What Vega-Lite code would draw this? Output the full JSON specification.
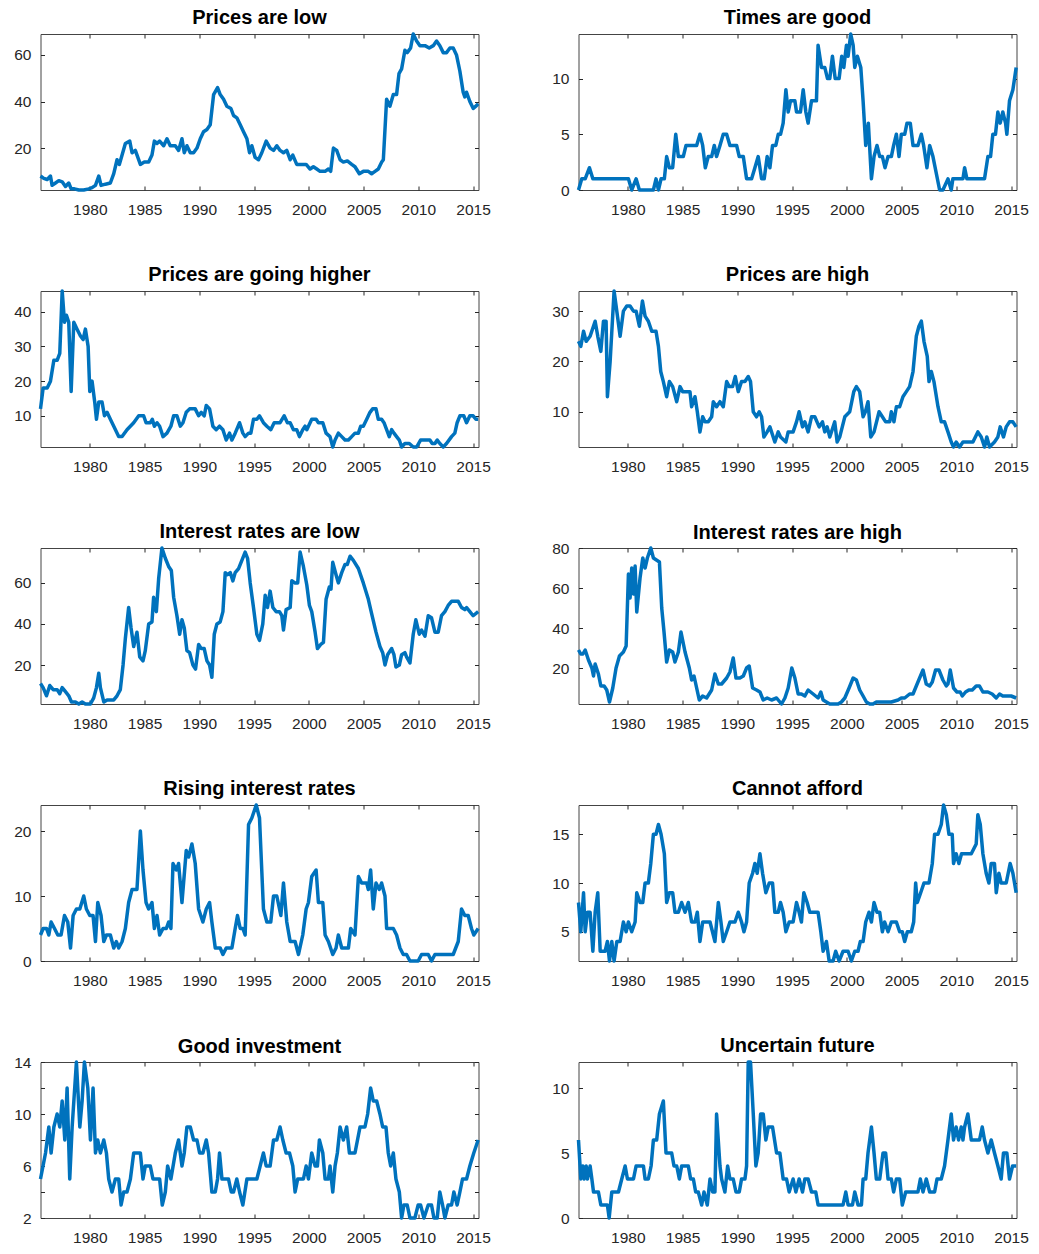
{
"$schema":"https://vega.github.io/schema/vega-lite/v6.json",
"background":"white",
"padding":{"left":12.5,"top":7,"right":5,"bottom":5},
"bounds":"flush",
"columns":2,
"spacing":{"row":101,"column":100},
"config":{
 "view":{"stroke":"#444444","strokeWidth":1},
 "axis":{"grid":false,"domain":false,"tickSize":-4,"tickColor":"#262626","tickWidth":1,"labelFont":"Liberation Sans","labelFontSize":15.5,"labelColor":"#262626","labelFlush":false,"labelOverlap":false},
 "axisBottom":{"labelPadding":16},
 "axisLeft":{"labelPadding":13.5},
 "axisTop":{"labels":false},
 "axisRight":{"labels":false},
 "title":{"font":"Liberation Sans","fontSize":20,"fontWeight":"bold","color":"#000000","offset":4,"anchor":"middle"},
 "line":{"color":"#0072BD","strokeWidth":3.5,"strokeJoin":"round"}
},
"datasets":{
"p1":[{"t":1975.50,"v":8},{"t":1975.80,"v":7},{"t":1976.11,"v":6.5},{"t":1976.41,"v":8},{"t":1976.56,"v":4},{"t":1976.87,"v":5},{"t":1977.17,"v":6},{"t":1977.48,"v":5.5},{"t":1977.78,"v":3.5},{"t":1978.08,"v":5},{"t":1978.30,"v":2.5},{"t":1978.60,"v":2.5},{"t":1979.00,"v":2},{"t":1979.45,"v":2},{"t":1979.91,"v":2.5},{"t":1980.21,"v":3},{"t":1980.52,"v":4},{"t":1980.82,"v":8},{"t":1981.03,"v":4},{"t":1981.43,"v":4.5},{"t":1981.88,"v":5},{"t":1982.19,"v":9},{"t":1982.49,"v":15},{"t":1982.70,"v":13},{"t":1982.95,"v":17},{"t":1983.25,"v":22},{"t":1983.65,"v":23},{"t":1983.86,"v":18},{"t":1984.16,"v":19},{"t":1984.62,"v":13},{"t":1984.98,"v":14},{"t":1985.38,"v":14},{"t":1985.68,"v":17},{"t":1985.90,"v":23},{"t":1986.14,"v":22},{"t":1986.38,"v":23},{"t":1986.75,"v":21},{"t":1987.05,"v":24},{"t":1987.35,"v":21},{"t":1987.81,"v":21},{"t":1988.11,"v":19},{"t":1988.42,"v":24},{"t":1988.63,"v":18},{"t":1988.87,"v":21},{"t":1989.18,"v":18},{"t":1989.48,"v":18},{"t":1989.79,"v":20},{"t":1990.09,"v":24},{"t":1990.39,"v":27},{"t":1990.70,"v":28},{"t":1991.00,"v":30},{"t":1991.31,"v":43},{"t":1991.67,"v":46},{"t":1991.91,"v":43},{"t":1992.22,"v":41},{"t":1992.52,"v":38},{"t":1992.89,"v":37},{"t":1993.13,"v":34},{"t":1993.43,"v":33},{"t":1993.74,"v":30},{"t":1994.04,"v":27},{"t":1994.35,"v":24},{"t":1994.59,"v":18},{"t":1994.80,"v":21},{"t":1995.10,"v":16},{"t":1995.41,"v":15},{"t":1995.71,"v":18},{"t":1996.11,"v":23},{"t":1996.47,"v":20},{"t":1996.78,"v":19},{"t":1997.08,"v":21},{"t":1997.38,"v":19},{"t":1997.69,"v":18},{"t":1997.99,"v":19},{"t":1998.30,"v":15},{"t":1998.54,"v":17},{"t":1998.90,"v":13},{"t":1999.36,"v":13},{"t":1999.76,"v":13},{"t":2000.12,"v":11},{"t":2000.42,"v":12},{"t":2000.73,"v":11},{"t":2001.03,"v":10},{"t":2001.49,"v":10},{"t":2001.79,"v":11},{"t":2002.00,"v":10},{"t":2002.25,"v":20},{"t":2002.55,"v":19},{"t":2002.86,"v":15},{"t":2003.16,"v":14},{"t":2003.52,"v":14.5},{"t":2003.92,"v":13},{"t":2004.22,"v":12},{"t":2004.62,"v":9},{"t":2004.98,"v":10},{"t":2005.44,"v":10},{"t":2005.74,"v":9},{"t":2006.05,"v":10},{"t":2006.35,"v":11},{"t":2006.66,"v":14},{"t":2006.81,"v":15},{"t":2007.11,"v":41},{"t":2007.41,"v":38},{"t":2007.72,"v":43},{"t":2008.02,"v":43},{"t":2008.24,"v":52},{"t":2008.48,"v":54},{"t":2008.78,"v":62},{"t":2008.99,"v":61},{"t":2009.30,"v":63},{"t":2009.54,"v":69},{"t":2009.85,"v":66},{"t":2010.15,"v":64},{"t":2010.61,"v":64},{"t":2011.00,"v":63},{"t":2011.37,"v":64},{"t":2011.67,"v":66},{"t":2011.97,"v":64},{"t":2012.28,"v":61},{"t":2012.58,"v":61},{"t":2012.89,"v":63},{"t":2013.19,"v":63},{"t":2013.49,"v":60},{"t":2013.80,"v":53},{"t":2014.10,"v":44},{"t":2014.25,"v":42},{"t":2014.41,"v":44},{"t":2014.71,"v":40},{"t":2015.02,"v":37},{"t":2015.26,"v":38},{"t":2015.47,"v":39}],
"p2":[{"t":1975.50,"v":0},{"t":1975.80,"v":1},{"t":1976.11,"v":1},{"t":1976.50,"v":2},{"t":1976.81,"v":1},{"t":1977.17,"v":1},{"t":1980.06,"v":1},{"t":1980.36,"v":0},{"t":1980.76,"v":1},{"t":1981.06,"v":0},{"t":1982.34,"v":0},{"t":1982.58,"v":1},{"t":1982.80,"v":0},{"t":1983.04,"v":1},{"t":1983.34,"v":1},{"t":1983.55,"v":3},{"t":1983.80,"v":2},{"t":1984.10,"v":2},{"t":1984.38,"v":5},{"t":1984.62,"v":3},{"t":1985.07,"v":3},{"t":1985.32,"v":4},{"t":1986.29,"v":4},{"t":1986.59,"v":5},{"t":1986.84,"v":4},{"t":1987.08,"v":2},{"t":1987.35,"v":3},{"t":1987.66,"v":3},{"t":1987.90,"v":4},{"t":1988.11,"v":3},{"t":1988.42,"v":4},{"t":1988.72,"v":5},{"t":1989.03,"v":5},{"t":1989.33,"v":4},{"t":1989.94,"v":4},{"t":1990.18,"v":3},{"t":1990.55,"v":3},{"t":1990.85,"v":1},{"t":1991.31,"v":1},{"t":1991.61,"v":2},{"t":1991.91,"v":3},{"t":1992.22,"v":1},{"t":1992.46,"v":1},{"t":1992.73,"v":3},{"t":1992.98,"v":2},{"t":1993.22,"v":4},{"t":1993.52,"v":4},{"t":1993.74,"v":5},{"t":1993.95,"v":5},{"t":1994.19,"v":6},{"t":1994.44,"v":9},{"t":1994.65,"v":7},{"t":1994.86,"v":8},{"t":1995.26,"v":8},{"t":1995.41,"v":7},{"t":1995.77,"v":7},{"t":1996.02,"v":9},{"t":1996.26,"v":7},{"t":1996.47,"v":6},{"t":1996.78,"v":8},{"t":1997.23,"v":8},{"t":1997.38,"v":13},{"t":1997.69,"v":11},{"t":1997.99,"v":11},{"t":1998.24,"v":10},{"t":1998.45,"v":10},{"t":1998.69,"v":12},{"t":1998.94,"v":10},{"t":1999.30,"v":10},{"t":1999.54,"v":12},{"t":1999.73,"v":11},{"t":1999.97,"v":13},{"t":2000.12,"v":12},{"t":2000.36,"v":14},{"t":2000.58,"v":13},{"t":2000.73,"v":11},{"t":2000.97,"v":12},{"t":2001.28,"v":11},{"t":2001.49,"v":8},{"t":2001.73,"v":4},{"t":2001.97,"v":6},{"t":2002.25,"v":1},{"t":2002.49,"v":3},{"t":2002.76,"v":4},{"t":2003.01,"v":3},{"t":2003.25,"v":3},{"t":2003.49,"v":2},{"t":2003.77,"v":3},{"t":2004.07,"v":3},{"t":2004.28,"v":4},{"t":2004.53,"v":5},{"t":2004.77,"v":3},{"t":2004.98,"v":5},{"t":2005.29,"v":5},{"t":2005.50,"v":6},{"t":2005.80,"v":6},{"t":2006.05,"v":4},{"t":2006.50,"v":4},{"t":2006.81,"v":5},{"t":2007.02,"v":4},{"t":2007.32,"v":2},{"t":2007.57,"v":4},{"t":2007.87,"v":3},{"t":2008.48,"v":0},{"t":2008.78,"v":0},{"t":2009.24,"v":1},{"t":2009.54,"v":0},{"t":2009.69,"v":1},{"t":2010.61,"v":1},{"t":2010.76,"v":2},{"t":2010.97,"v":1},{"t":2012.58,"v":1},{"t":2012.89,"v":3},{"t":2013.13,"v":3},{"t":2013.34,"v":5},{"t":2013.58,"v":5},{"t":2013.80,"v":7},{"t":2014.01,"v":6},{"t":2014.25,"v":7},{"t":2014.50,"v":6},{"t":2014.62,"v":5},{"t":2014.86,"v":8},{"t":2015.17,"v":9},{"t":2015.47,"v":11}],
"p3":[{"t":1975.50,"v":12},{"t":1975.74,"v":18},{"t":1976.11,"v":18},{"t":1976.41,"v":20},{"t":1976.72,"v":26},{"t":1977.02,"v":26},{"t":1977.26,"v":28},{"t":1977.48,"v":46},{"t":1977.69,"v":37},{"t":1977.87,"v":39},{"t":1978.08,"v":37},{"t":1978.30,"v":17},{"t":1978.54,"v":37},{"t":1978.84,"v":35},{"t":1979.15,"v":33},{"t":1979.39,"v":32},{"t":1979.60,"v":35},{"t":1979.85,"v":30},{"t":1980.00,"v":17},{"t":1980.21,"v":20},{"t":1980.45,"v":14},{"t":1980.61,"v":9},{"t":1980.82,"v":14},{"t":1981.12,"v":14},{"t":1981.34,"v":10},{"t":1981.58,"v":11},{"t":1981.88,"v":9},{"t":1982.19,"v":7},{"t":1982.64,"v":4},{"t":1982.95,"v":4},{"t":1983.40,"v":6},{"t":1984.01,"v":8},{"t":1984.47,"v":10},{"t":1984.92,"v":10},{"t":1985.14,"v":8},{"t":1985.53,"v":8},{"t":1985.71,"v":9},{"t":1985.90,"v":7},{"t":1986.14,"v":8},{"t":1986.38,"v":7},{"t":1986.69,"v":4},{"t":1987.05,"v":5},{"t":1987.41,"v":7},{"t":1987.66,"v":10},{"t":1987.96,"v":10},{"t":1988.27,"v":7},{"t":1988.51,"v":8},{"t":1988.81,"v":11},{"t":1989.12,"v":12},{"t":1989.63,"v":12},{"t":1989.94,"v":10},{"t":1990.18,"v":11},{"t":1990.45,"v":10},{"t":1990.64,"v":13},{"t":1990.94,"v":12},{"t":1991.24,"v":7},{"t":1991.55,"v":6},{"t":1991.85,"v":7},{"t":1992.16,"v":6},{"t":1992.46,"v":3},{"t":1992.76,"v":5},{"t":1992.98,"v":3},{"t":1993.28,"v":5},{"t":1993.68,"v":8},{"t":1993.98,"v":5},{"t":1994.19,"v":4},{"t":1994.50,"v":5},{"t":1994.71,"v":5},{"t":1994.95,"v":9},{"t":1995.26,"v":9},{"t":1995.50,"v":10},{"t":1995.86,"v":8},{"t":1996.17,"v":7},{"t":1996.53,"v":6},{"t":1996.84,"v":8},{"t":1997.38,"v":8},{"t":1997.75,"v":10},{"t":1998.05,"v":8},{"t":1998.30,"v":8},{"t":1998.60,"v":6},{"t":1998.90,"v":6},{"t":1999.15,"v":4},{"t":1999.45,"v":6},{"t":1999.66,"v":7},{"t":1999.82,"v":6},{"t":2000.27,"v":9},{"t":2000.67,"v":9},{"t":2000.88,"v":8},{"t":2001.28,"v":8},{"t":2001.58,"v":5},{"t":2001.94,"v":4},{"t":2002.19,"v":1},{"t":2002.40,"v":3},{"t":2002.70,"v":5},{"t":2003.01,"v":4},{"t":2003.31,"v":3},{"t":2003.62,"v":3},{"t":2003.92,"v":4},{"t":2004.22,"v":5},{"t":2004.53,"v":5},{"t":2004.74,"v":7},{"t":2004.98,"v":7},{"t":2005.29,"v":9},{"t":2005.59,"v":11},{"t":2005.83,"v":12},{"t":2006.14,"v":12},{"t":2006.35,"v":9},{"t":2006.65,"v":9},{"t":2006.87,"v":8},{"t":2007.11,"v":6},{"t":2007.35,"v":4},{"t":2007.57,"v":6},{"t":2007.78,"v":5},{"t":2008.02,"v":4},{"t":2008.27,"v":3},{"t":2008.48,"v":1},{"t":2008.78,"v":2},{"t":2009.18,"v":2},{"t":2009.54,"v":1},{"t":2009.85,"v":1},{"t":2010.21,"v":3},{"t":2010.76,"v":3},{"t":2011.06,"v":3},{"t":2011.27,"v":2},{"t":2011.52,"v":2},{"t":2011.73,"v":3},{"t":2011.97,"v":2},{"t":2012.28,"v":1},{"t":2012.58,"v":2},{"t":2013.04,"v":4},{"t":2013.34,"v":5},{"t":2013.55,"v":8},{"t":2013.80,"v":10},{"t":2014.16,"v":10},{"t":2014.41,"v":8},{"t":2014.71,"v":10},{"t":2015.01,"v":10},{"t":2015.26,"v":9},{"t":2015.47,"v":9}],
"p4":[{"t":1975.50,"v":24},{"t":1975.71,"v":23},{"t":1975.96,"v":26},{"t":1976.20,"v":24},{"t":1976.56,"v":25},{"t":1977.02,"v":28},{"t":1977.26,"v":25},{"t":1977.54,"v":22},{"t":1977.78,"v":28},{"t":1978.02,"v":28},{"t":1978.14,"v":13},{"t":1978.39,"v":20},{"t":1978.75,"v":34},{"t":1979.06,"v":29},{"t":1979.30,"v":25},{"t":1979.60,"v":30},{"t":1979.91,"v":31},{"t":1980.21,"v":31},{"t":1980.52,"v":30},{"t":1980.76,"v":30},{"t":1981.06,"v":27},{"t":1981.34,"v":32},{"t":1981.58,"v":29},{"t":1981.88,"v":28},{"t":1982.19,"v":26},{"t":1982.58,"v":26},{"t":1982.80,"v":23},{"t":1983.01,"v":18},{"t":1983.25,"v":16},{"t":1983.55,"v":13},{"t":1983.80,"v":16},{"t":1984.10,"v":15},{"t":1984.47,"v":12},{"t":1984.77,"v":15},{"t":1985.01,"v":14},{"t":1985.68,"v":14},{"t":1985.83,"v":11},{"t":1986.14,"v":13},{"t":1986.35,"v":10},{"t":1986.59,"v":6},{"t":1986.84,"v":9},{"t":1987.05,"v":8},{"t":1987.35,"v":8},{"t":1987.66,"v":9},{"t":1987.81,"v":12},{"t":1988.11,"v":11},{"t":1988.42,"v":12},{"t":1988.72,"v":11},{"t":1989.03,"v":16},{"t":1989.27,"v":15},{"t":1989.57,"v":15},{"t":1989.82,"v":17},{"t":1990.09,"v":14},{"t":1990.39,"v":16},{"t":1990.70,"v":16},{"t":1991.00,"v":17},{"t":1991.21,"v":16},{"t":1991.46,"v":10},{"t":1991.76,"v":9},{"t":1992.00,"v":10},{"t":1992.22,"v":9},{"t":1992.43,"v":5},{"t":1992.73,"v":6},{"t":1992.98,"v":7},{"t":1993.43,"v":4},{"t":1993.74,"v":6},{"t":1993.95,"v":5},{"t":1994.44,"v":4},{"t":1994.65,"v":6},{"t":1995.10,"v":6},{"t":1995.41,"v":8},{"t":1995.65,"v":10},{"t":1995.96,"v":7},{"t":1996.17,"v":8},{"t":1996.47,"v":6},{"t":1996.78,"v":9},{"t":1997.08,"v":9},{"t":1997.48,"v":7},{"t":1997.78,"v":8},{"t":1997.99,"v":6},{"t":1998.21,"v":7},{"t":1998.45,"v":5},{"t":1998.90,"v":8},{"t":1999.12,"v":4},{"t":1999.36,"v":5},{"t":1999.82,"v":9},{"t":2000.27,"v":10},{"t":2000.64,"v":14},{"t":2000.88,"v":15},{"t":2001.18,"v":14},{"t":2001.49,"v":9},{"t":2001.70,"v":10},{"t":2001.94,"v":12},{"t":2002.19,"v":5},{"t":2002.49,"v":6},{"t":2002.95,"v":10},{"t":2003.25,"v":9},{"t":2003.55,"v":8},{"t":2003.92,"v":8},{"t":2004.07,"v":10},{"t":2004.31,"v":8},{"t":2004.53,"v":11},{"t":2004.83,"v":11},{"t":2005.13,"v":13},{"t":2005.44,"v":14},{"t":2005.74,"v":15},{"t":2006.05,"v":18},{"t":2006.35,"v":25},{"t":2006.59,"v":27},{"t":2006.81,"v":28},{"t":2007.05,"v":24},{"t":2007.35,"v":21},{"t":2007.51,"v":16},{"t":2007.72,"v":18},{"t":2007.96,"v":16},{"t":2008.33,"v":11},{"t":2008.63,"v":8},{"t":2008.93,"v":8},{"t":2009.24,"v":6},{"t":2009.54,"v":4},{"t":2009.75,"v":3},{"t":2009.99,"v":4},{"t":2010.30,"v":3},{"t":2010.61,"v":4},{"t":2011.52,"v":4},{"t":2011.97,"v":6},{"t":2012.28,"v":5},{"t":2012.58,"v":3},{"t":2012.79,"v":5},{"t":2013.04,"v":3},{"t":2013.49,"v":4},{"t":2013.80,"v":5},{"t":2014.01,"v":7},{"t":2014.31,"v":5},{"t":2014.56,"v":7},{"t":2014.86,"v":8},{"t":2015.17,"v":8},{"t":2015.47,"v":7}],
"p5":[{"t":1975.50,"v":11},{"t":1975.74,"v":9},{"t":1976.05,"v":5},{"t":1976.35,"v":10},{"t":1976.66,"v":8},{"t":1977.02,"v":8},{"t":1977.26,"v":6},{"t":1977.48,"v":9},{"t":1977.78,"v":7},{"t":1978.08,"v":5},{"t":1978.33,"v":2},{"t":1978.69,"v":2},{"t":1979.00,"v":1},{"t":1979.30,"v":2},{"t":1979.60,"v":1},{"t":1980.06,"v":1},{"t":1980.36,"v":4},{"t":1980.61,"v":9},{"t":1980.82,"v":16},{"t":1980.97,"v":9},{"t":1981.28,"v":2},{"t":1981.58,"v":3},{"t":1982.19,"v":3},{"t":1982.49,"v":5},{"t":1982.79,"v":8},{"t":1983.04,"v":20},{"t":1983.25,"v":33},{"t":1983.55,"v":48},{"t":1983.77,"v":38},{"t":1984.01,"v":29},{"t":1984.31,"v":36},{"t":1984.56,"v":24},{"t":1984.86,"v":22},{"t":1985.07,"v":27},{"t":1985.38,"v":40},{"t":1985.68,"v":41},{"t":1985.83,"v":53},{"t":1986.08,"v":46},{"t":1986.29,"v":62},{"t":1986.59,"v":77},{"t":1986.90,"v":72},{"t":1987.20,"v":68},{"t":1987.45,"v":66},{"t":1987.66,"v":53},{"t":1987.96,"v":44},{"t":1988.21,"v":35},{"t":1988.42,"v":42},{"t":1988.63,"v":38},{"t":1988.87,"v":27},{"t":1989.12,"v":26},{"t":1989.42,"v":20},{"t":1989.66,"v":18},{"t":1989.94,"v":30},{"t":1990.18,"v":28},{"t":1990.45,"v":28},{"t":1990.70,"v":22},{"t":1990.94,"v":20},{"t":1991.15,"v":14},{"t":1991.37,"v":35},{"t":1991.61,"v":40},{"t":1991.91,"v":41},{"t":1992.16,"v":46},{"t":1992.37,"v":65},{"t":1992.58,"v":64},{"t":1992.83,"v":65},{"t":1993.07,"v":61},{"t":1993.28,"v":65},{"t":1993.59,"v":67},{"t":1993.89,"v":71},{"t":1994.19,"v":75},{"t":1994.41,"v":72},{"t":1994.65,"v":60},{"t":1994.95,"v":48},{"t":1995.26,"v":35},{"t":1995.50,"v":32},{"t":1995.80,"v":40},{"t":1996.02,"v":54},{"t":1996.23,"v":48},{"t":1996.47,"v":56},{"t":1996.72,"v":48},{"t":1997.02,"v":46},{"t":1997.32,"v":46},{"t":1997.54,"v":44},{"t":1997.69,"v":37},{"t":1997.93,"v":47},{"t":1998.30,"v":48},{"t":1998.45,"v":61},{"t":1998.75,"v":60},{"t":1998.99,"v":60},{"t":1999.21,"v":75},{"t":1999.51,"v":68},{"t":1999.82,"v":59},{"t":2000.06,"v":49},{"t":2000.27,"v":46},{"t":2000.58,"v":36},{"t":2000.79,"v":28},{"t":2001.09,"v":30},{"t":2001.34,"v":31},{"t":2001.58,"v":52},{"t":2001.88,"v":58},{"t":2002.03,"v":57},{"t":2002.19,"v":70},{"t":2002.49,"v":64},{"t":2002.70,"v":60},{"t":2003.01,"v":65},{"t":2003.31,"v":69},{"t":2003.52,"v":69},{"t":2003.77,"v":73},{"t":2004.07,"v":71},{"t":2004.53,"v":67},{"t":2004.98,"v":60},{"t":2005.44,"v":52},{"t":2005.74,"v":45},{"t":2006.14,"v":36},{"t":2006.50,"v":29},{"t":2006.75,"v":26},{"t":2006.96,"v":20},{"t":2007.20,"v":25},{"t":2007.57,"v":28},{"t":2007.78,"v":25},{"t":2007.96,"v":19},{"t":2008.27,"v":20},{"t":2008.48,"v":25},{"t":2008.78,"v":26},{"t":2008.93,"v":24},{"t":2009.24,"v":21},{"t":2009.54,"v":35},{"t":2009.78,"v":42},{"t":2010.09,"v":35},{"t":2010.30,"v":37},{"t":2010.61,"v":34},{"t":2010.91,"v":44},{"t":2011.21,"v":43},{"t":2011.52,"v":36},{"t":2011.82,"v":36},{"t":2012.12,"v":44},{"t":2012.43,"v":46},{"t":2012.73,"v":49},{"t":2013.04,"v":51},{"t":2013.65,"v":51},{"t":2013.95,"v":48},{"t":2014.25,"v":47},{"t":2014.41,"v":48},{"t":2014.71,"v":46},{"t":2015.01,"v":44},{"t":2015.47,"v":46}],
"p6":[{"t":1975.50,"v":29},{"t":1975.71,"v":27},{"t":1975.90,"v":27},{"t":1976.11,"v":29},{"t":1976.41,"v":24},{"t":1976.72,"v":20},{"t":1976.87,"v":16},{"t":1977.02,"v":22},{"t":1977.32,"v":17},{"t":1977.54,"v":11},{"t":1977.84,"v":11},{"t":1978.08,"v":9},{"t":1978.33,"v":3},{"t":1978.63,"v":10},{"t":1978.93,"v":20},{"t":1979.24,"v":26},{"t":1979.60,"v":28},{"t":1979.85,"v":31},{"t":1980.06,"v":67},{"t":1980.21,"v":55},{"t":1980.36,"v":70},{"t":1980.52,"v":57},{"t":1980.67,"v":71},{"t":1980.82,"v":48},{"t":1981.12,"v":65},{"t":1981.37,"v":75},{"t":1981.58,"v":70},{"t":1981.79,"v":75},{"t":1982.10,"v":80},{"t":1982.34,"v":75},{"t":1982.89,"v":73},{"t":1983.10,"v":50},{"t":1983.31,"v":38},{"t":1983.55,"v":23},{"t":1983.80,"v":29},{"t":1984.10,"v":28},{"t":1984.31,"v":23},{"t":1984.62,"v":28},{"t":1984.86,"v":38},{"t":1985.23,"v":28},{"t":1985.62,"v":20},{"t":1985.83,"v":14},{"t":1986.05,"v":16},{"t":1986.29,"v":10},{"t":1986.53,"v":4},{"t":1986.84,"v":6},{"t":1987.20,"v":5},{"t":1987.66,"v":9},{"t":1987.96,"v":17},{"t":1988.27,"v":12},{"t":1988.57,"v":12},{"t":1989.03,"v":15},{"t":1989.33,"v":18},{"t":1989.63,"v":25},{"t":1989.88,"v":15},{"t":1990.24,"v":15},{"t":1990.55,"v":16},{"t":1990.85,"v":20},{"t":1991.09,"v":21},{"t":1991.40,"v":10},{"t":1991.76,"v":9},{"t":1992.07,"v":8},{"t":1992.37,"v":4},{"t":1992.73,"v":5},{"t":1993.13,"v":4},{"t":1993.59,"v":5},{"t":1994.04,"v":2},{"t":1994.35,"v":5},{"t":1994.65,"v":10},{"t":1994.98,"v":20},{"t":1995.26,"v":15},{"t":1995.56,"v":7},{"t":1995.86,"v":7},{"t":1996.17,"v":6},{"t":1996.47,"v":9},{"t":1996.93,"v":7},{"t":1997.38,"v":5},{"t":1997.63,"v":8},{"t":1997.84,"v":4},{"t":1998.14,"v":3},{"t":1998.45,"v":2},{"t":1998.75,"v":2},{"t":1999.21,"v":2},{"t":1999.51,"v":3},{"t":1999.82,"v":5},{"t":2000.21,"v":10},{"t":2000.58,"v":15},{"t":2000.88,"v":14},{"t":2001.18,"v":9},{"t":2001.49,"v":6},{"t":2001.79,"v":3},{"t":2002.10,"v":2},{"t":2002.40,"v":2},{"t":2002.70,"v":3},{"t":2003.46,"v":3},{"t":2004.07,"v":3},{"t":2004.68,"v":4},{"t":2004.98,"v":5},{"t":2005.29,"v":5},{"t":2005.74,"v":7},{"t":2006.05,"v":7},{"t":2006.50,"v":13},{"t":2006.96,"v":19},{"t":2007.26,"v":12},{"t":2007.57,"v":11},{"t":2007.81,"v":13},{"t":2008.11,"v":19},{"t":2008.42,"v":19},{"t":2008.78,"v":14},{"t":2009.09,"v":11},{"t":2009.24,"v":12},{"t":2009.45,"v":19},{"t":2009.75,"v":10},{"t":2010.06,"v":8},{"t":2010.36,"v":8},{"t":2010.55,"v":6},{"t":2010.85,"v":8},{"t":2011.15,"v":9},{"t":2011.46,"v":9},{"t":2011.82,"v":11},{"t":2012.12,"v":11},{"t":2012.43,"v":8},{"t":2012.89,"v":8},{"t":2013.28,"v":7},{"t":2013.65,"v":5},{"t":2013.95,"v":7},{"t":2014.25,"v":6},{"t":2014.71,"v":6},{"t":2015.01,"v":6},{"t":2015.47,"v":5}],
"p7":[{"t":1975.50,"v":4},{"t":1975.74,"v":5},{"t":1976.05,"v":5},{"t":1976.26,"v":4},{"t":1976.47,"v":6},{"t":1976.78,"v":5},{"t":1977.08,"v":4},{"t":1977.38,"v":4},{"t":1977.69,"v":7},{"t":1977.99,"v":6},{"t":1978.24,"v":2},{"t":1978.48,"v":7},{"t":1978.78,"v":8},{"t":1979.09,"v":8},{"t":1979.45,"v":10},{"t":1979.69,"v":8},{"t":1980.00,"v":7},{"t":1980.30,"v":7},{"t":1980.52,"v":3},{"t":1980.73,"v":9},{"t":1981.03,"v":7},{"t":1981.28,"v":3},{"t":1981.52,"v":4},{"t":1981.88,"v":4},{"t":1982.19,"v":2},{"t":1982.43,"v":3},{"t":1982.64,"v":2},{"t":1982.95,"v":3},{"t":1983.25,"v":5},{"t":1983.55,"v":9},{"t":1983.86,"v":11},{"t":1984.31,"v":11},{"t":1984.62,"v":20},{"t":1984.86,"v":14},{"t":1985.14,"v":9},{"t":1985.38,"v":8},{"t":1985.68,"v":9},{"t":1985.90,"v":5},{"t":1986.14,"v":7},{"t":1986.38,"v":4},{"t":1986.69,"v":5},{"t":1986.99,"v":5},{"t":1987.20,"v":6},{"t":1987.41,"v":5},{"t":1987.60,"v":15},{"t":1987.90,"v":14},{"t":1988.11,"v":15},{"t":1988.42,"v":9},{"t":1988.81,"v":17},{"t":1989.03,"v":16},{"t":1989.33,"v":18},{"t":1989.63,"v":15},{"t":1989.94,"v":8},{"t":1990.33,"v":6},{"t":1990.64,"v":8},{"t":1990.94,"v":9},{"t":1991.15,"v":6},{"t":1991.46,"v":2},{"t":1991.91,"v":2},{"t":1992.16,"v":1},{"t":1992.46,"v":2},{"t":1992.98,"v":2},{"t":1993.28,"v":5},{"t":1993.49,"v":7},{"t":1993.74,"v":5},{"t":1993.98,"v":5},{"t":1994.19,"v":4},{"t":1994.50,"v":21},{"t":1994.80,"v":22},{"t":1995.20,"v":24},{"t":1995.50,"v":22},{"t":1995.86,"v":8},{"t":1996.17,"v":6},{"t":1996.53,"v":6},{"t":1996.78,"v":10},{"t":1997.08,"v":10},{"t":1997.45,"v":7},{"t":1997.69,"v":12},{"t":1997.99,"v":6},{"t":1998.30,"v":3},{"t":1998.75,"v":3},{"t":1999.06,"v":1},{"t":1999.45,"v":4},{"t":1999.76,"v":8},{"t":1999.97,"v":9},{"t":2000.27,"v":13},{"t":2000.67,"v":14},{"t":2000.88,"v":9},{"t":2001.28,"v":9},{"t":2001.49,"v":4},{"t":2001.79,"v":3},{"t":2002.19,"v":1},{"t":2002.49,"v":2},{"t":2002.70,"v":4},{"t":2003.01,"v":2},{"t":2003.62,"v":2},{"t":2003.83,"v":5},{"t":2004.22,"v":4},{"t":2004.53,"v":13},{"t":2004.83,"v":12},{"t":2005.29,"v":12},{"t":2005.44,"v":11},{"t":2005.65,"v":14},{"t":2005.89,"v":8},{"t":2006.14,"v":12},{"t":2006.44,"v":11},{"t":2006.65,"v":12},{"t":2006.96,"v":10},{"t":2007.11,"v":5},{"t":2007.72,"v":5},{"t":2008.02,"v":4},{"t":2008.33,"v":2},{"t":2008.63,"v":1},{"t":2008.93,"v":1},{"t":2009.24,"v":0},{"t":2009.99,"v":0},{"t":2010.30,"v":1},{"t":2010.91,"v":1},{"t":2011.21,"v":0},{"t":2011.52,"v":1},{"t":2013.19,"v":1},{"t":2013.65,"v":3},{"t":2013.95,"v":8},{"t":2014.25,"v":7},{"t":2014.56,"v":7},{"t":2014.86,"v":5},{"t":2015.07,"v":4},{"t":2015.47,"v":5}],
"p8":[{"t":1975.50,"v":8},{"t":1975.71,"v":5},{"t":1975.96,"v":9},{"t":1976.11,"v":5},{"t":1976.32,"v":7},{"t":1976.56,"v":7},{"t":1976.81,"v":3},{"t":1977.02,"v":7},{"t":1977.26,"v":9},{"t":1977.48,"v":3},{"t":1977.93,"v":3},{"t":1978.14,"v":4},{"t":1978.33,"v":2},{"t":1978.54,"v":4},{"t":1978.75,"v":2},{"t":1979.00,"v":4},{"t":1979.30,"v":4},{"t":1979.60,"v":6},{"t":1979.85,"v":5},{"t":1980.06,"v":6},{"t":1980.36,"v":5},{"t":1980.67,"v":6},{"t":1980.82,"v":9},{"t":1981.12,"v":8},{"t":1981.37,"v":8},{"t":1981.58,"v":10},{"t":1981.88,"v":10},{"t":1982.10,"v":12},{"t":1982.34,"v":15},{"t":1982.58,"v":15},{"t":1982.80,"v":16},{"t":1983.04,"v":15},{"t":1983.34,"v":13},{"t":1983.55,"v":8},{"t":1983.80,"v":9},{"t":1984.10,"v":9},{"t":1984.31,"v":7},{"t":1984.62,"v":7},{"t":1984.92,"v":8},{"t":1985.23,"v":7},{"t":1985.53,"v":8},{"t":1985.83,"v":6},{"t":1986.14,"v":6},{"t":1986.35,"v":7},{"t":1986.59,"v":4},{"t":1986.84,"v":6},{"t":1987.51,"v":6},{"t":1987.96,"v":4},{"t":1988.27,"v":8},{"t":1988.51,"v":6},{"t":1988.72,"v":4},{"t":1989.03,"v":5},{"t":1989.33,"v":6},{"t":1989.79,"v":6},{"t":1990.09,"v":7},{"t":1990.39,"v":6},{"t":1990.61,"v":5},{"t":1990.85,"v":6},{"t":1991.09,"v":10},{"t":1991.40,"v":11},{"t":1991.61,"v":12},{"t":1991.82,"v":11},{"t":1992.07,"v":13},{"t":1992.31,"v":11},{"t":1992.61,"v":9},{"t":1992.92,"v":10},{"t":1993.22,"v":10},{"t":1993.43,"v":7},{"t":1993.74,"v":7},{"t":1993.95,"v":8},{"t":1994.19,"v":7},{"t":1994.44,"v":5},{"t":1994.74,"v":6},{"t":1995.10,"v":6},{"t":1995.41,"v":8},{"t":1995.65,"v":7},{"t":1995.86,"v":6},{"t":1996.08,"v":9},{"t":1996.38,"v":8},{"t":1996.62,"v":7},{"t":1997.38,"v":7},{"t":1997.63,"v":5},{"t":1997.84,"v":3},{"t":1998.14,"v":4},{"t":1998.39,"v":2},{"t":1998.75,"v":2},{"t":1998.99,"v":3},{"t":1999.30,"v":2},{"t":1999.66,"v":3},{"t":2000.12,"v":3},{"t":2000.42,"v":2},{"t":2000.73,"v":3},{"t":2001.03,"v":3},{"t":2001.24,"v":4},{"t":2001.49,"v":4},{"t":2001.73,"v":6},{"t":2002.03,"v":7},{"t":2002.25,"v":6},{"t":2002.49,"v":8},{"t":2002.76,"v":7},{"t":2003.01,"v":7},{"t":2003.25,"v":5},{"t":2003.46,"v":6},{"t":2003.77,"v":5},{"t":2004.07,"v":6},{"t":2004.53,"v":6},{"t":2004.83,"v":5},{"t":2005.07,"v":5},{"t":2005.29,"v":4},{"t":2005.53,"v":5},{"t":2005.89,"v":5},{"t":2006.11,"v":6},{"t":2006.29,"v":10},{"t":2006.44,"v":8},{"t":2006.75,"v":9},{"t":2007.05,"v":10},{"t":2007.51,"v":10},{"t":2007.81,"v":12},{"t":2008.02,"v":15},{"t":2008.33,"v":15},{"t":2008.63,"v":16},{"t":2008.84,"v":18},{"t":2009.09,"v":17},{"t":2009.33,"v":15},{"t":2009.63,"v":15},{"t":2009.75,"v":12},{"t":2009.99,"v":13},{"t":2010.24,"v":12},{"t":2010.48,"v":13},{"t":2011.37,"v":13},{"t":2011.82,"v":14},{"t":2011.97,"v":17},{"t":2012.19,"v":16},{"t":2012.43,"v":13},{"t":2012.73,"v":11},{"t":2012.98,"v":10},{"t":2013.19,"v":12},{"t":2013.49,"v":12},{"t":2013.65,"v":9},{"t":2013.89,"v":11},{"t":2014.10,"v":10},{"t":2014.56,"v":10},{"t":2014.92,"v":12},{"t":2015.17,"v":11},{"t":2015.47,"v":9}],
"p9":[{"t":1975.50,"v":5},{"t":1975.96,"v":7},{"t":1976.26,"v":9},{"t":1976.47,"v":7},{"t":1976.72,"v":9},{"t":1977.02,"v":10},{"t":1977.26,"v":9},{"t":1977.48,"v":11},{"t":1977.72,"v":8},{"t":1977.93,"v":12},{"t":1978.17,"v":5},{"t":1978.39,"v":9},{"t":1978.78,"v":14},{"t":1979.09,"v":9},{"t":1979.30,"v":11},{"t":1979.51,"v":14},{"t":1979.82,"v":12},{"t":1980.06,"v":8},{"t":1980.30,"v":12},{"t":1980.52,"v":7},{"t":1980.73,"v":8},{"t":1980.97,"v":7},{"t":1981.28,"v":8},{"t":1981.52,"v":7},{"t":1981.73,"v":5},{"t":1982.03,"v":4},{"t":1982.34,"v":5},{"t":1982.64,"v":5},{"t":1982.86,"v":3},{"t":1983.10,"v":4},{"t":1983.40,"v":4},{"t":1983.71,"v":5},{"t":1984.01,"v":7},{"t":1984.62,"v":7},{"t":1984.86,"v":5},{"t":1985.07,"v":6},{"t":1985.53,"v":6},{"t":1985.77,"v":5},{"t":1986.14,"v":5},{"t":1986.38,"v":5},{"t":1986.62,"v":3},{"t":1986.90,"v":4},{"t":1987.11,"v":6},{"t":1987.41,"v":5},{"t":1987.81,"v":7},{"t":1988.11,"v":8},{"t":1988.42,"v":6},{"t":1988.63,"v":7},{"t":1988.87,"v":9},{"t":1989.18,"v":9},{"t":1989.48,"v":8},{"t":1989.79,"v":8},{"t":1990.03,"v":7},{"t":1990.33,"v":7},{"t":1990.64,"v":8},{"t":1990.85,"v":7},{"t":1991.15,"v":4},{"t":1991.46,"v":4},{"t":1991.67,"v":5},{"t":1991.85,"v":7},{"t":1992.07,"v":5},{"t":1992.37,"v":5},{"t":1992.67,"v":5},{"t":1992.92,"v":4},{"t":1993.13,"v":4},{"t":1993.43,"v":5},{"t":1993.68,"v":4},{"t":1993.98,"v":3},{"t":1994.35,"v":5},{"t":1994.80,"v":5},{"t":1995.26,"v":5},{"t":1995.56,"v":6},{"t":1995.86,"v":7},{"t":1996.11,"v":6},{"t":1996.47,"v":6},{"t":1996.78,"v":8},{"t":1997.08,"v":8},{"t":1997.38,"v":9},{"t":1997.63,"v":8},{"t":1997.93,"v":7},{"t":1998.24,"v":7},{"t":1998.54,"v":6},{"t":1998.75,"v":4},{"t":1998.99,"v":5},{"t":1999.51,"v":5},{"t":1999.76,"v":6},{"t":1999.97,"v":5},{"t":2000.27,"v":7},{"t":2000.58,"v":6},{"t":2000.79,"v":6},{"t":2000.97,"v":8},{"t":2001.28,"v":7},{"t":2001.49,"v":5},{"t":2001.79,"v":5},{"t":2001.94,"v":6},{"t":2002.19,"v":4},{"t":2002.40,"v":6},{"t":2002.61,"v":7},{"t":2002.86,"v":9},{"t":2003.16,"v":8},{"t":2003.46,"v":9},{"t":2003.71,"v":7},{"t":2004.22,"v":7},{"t":2004.68,"v":9},{"t":2005.13,"v":9},{"t":2005.38,"v":10},{"t":2005.65,"v":12},{"t":2005.89,"v":11},{"t":2006.20,"v":11},{"t":2006.50,"v":10},{"t":2006.75,"v":9},{"t":2007.05,"v":9},{"t":2007.26,"v":7},{"t":2007.48,"v":6},{"t":2007.72,"v":7},{"t":2007.96,"v":5},{"t":2008.27,"v":4},{"t":2008.48,"v":2},{"t":2008.69,"v":3},{"t":2008.99,"v":3},{"t":2009.24,"v":2},{"t":2009.69,"v":2},{"t":2009.99,"v":3},{"t":2010.21,"v":3},{"t":2010.52,"v":2},{"t":2010.91,"v":3},{"t":2011.21,"v":3},{"t":2011.43,"v":2},{"t":2011.73,"v":2},{"t":2011.97,"v":4},{"t":2012.22,"v":3},{"t":2012.43,"v":2},{"t":2012.73,"v":3},{"t":2013.04,"v":3},{"t":2013.25,"v":4},{"t":2013.55,"v":3},{"t":2013.80,"v":4},{"t":2014.04,"v":5},{"t":2014.41,"v":5},{"t":2014.71,"v":6},{"t":2015.07,"v":7},{"t":2015.47,"v":8}],
"p10":[{"t":1975.50,"v":6},{"t":1975.71,"v":3},{"t":1975.90,"v":4},{"t":1976.02,"v":3},{"t":1976.20,"v":4},{"t":1976.32,"v":3},{"t":1976.56,"v":4},{"t":1976.72,"v":3},{"t":1976.87,"v":2},{"t":1977.32,"v":2},{"t":1977.54,"v":1},{"t":1977.93,"v":1},{"t":1978.14,"v":1},{"t":1978.30,"v":0},{"t":1978.54,"v":2},{"t":1979.15,"v":2},{"t":1979.45,"v":3},{"t":1979.76,"v":4},{"t":1979.97,"v":3},{"t":1980.52,"v":3},{"t":1980.76,"v":4},{"t":1981.43,"v":4},{"t":1981.58,"v":3},{"t":1981.88,"v":3},{"t":1982.13,"v":4},{"t":1982.34,"v":6},{"t":1982.64,"v":6},{"t":1982.89,"v":8},{"t":1983.25,"v":9},{"t":1983.49,"v":5},{"t":1984.01,"v":5},{"t":1984.22,"v":4},{"t":1984.47,"v":4},{"t":1984.71,"v":3},{"t":1984.92,"v":4},{"t":1985.53,"v":4},{"t":1985.74,"v":3},{"t":1985.99,"v":3},{"t":1986.20,"v":2},{"t":1986.44,"v":2},{"t":1986.75,"v":1},{"t":1986.96,"v":2},{"t":1987.26,"v":1},{"t":1987.51,"v":3},{"t":1987.75,"v":2},{"t":1987.96,"v":2},{"t":1988.11,"v":8},{"t":1988.42,"v":4},{"t":1988.57,"v":3},{"t":1988.87,"v":2},{"t":1989.12,"v":4},{"t":1989.33,"v":3},{"t":1989.63,"v":3},{"t":1989.88,"v":2},{"t":1990.18,"v":2},{"t":1990.39,"v":3},{"t":1990.70,"v":3},{"t":1990.85,"v":4},{"t":1991.00,"v":12},{"t":1991.21,"v":12},{"t":1991.46,"v":8},{"t":1991.70,"v":4},{"t":1991.91,"v":5},{"t":1992.13,"v":8},{"t":1992.37,"v":8},{"t":1992.61,"v":6},{"t":1992.83,"v":7},{"t":1993.22,"v":7},{"t":1993.59,"v":5},{"t":1993.89,"v":5},{"t":1994.19,"v":3},{"t":1994.50,"v":3},{"t":1994.74,"v":2},{"t":1995.10,"v":3},{"t":1995.35,"v":2},{"t":1995.65,"v":3},{"t":1995.96,"v":2},{"t":1996.17,"v":3},{"t":1996.47,"v":3},{"t":1996.78,"v":2},{"t":1997.17,"v":2},{"t":1997.38,"v":1},{"t":1999.66,"v":1},{"t":1999.91,"v":2},{"t":2000.12,"v":1},{"t":2000.52,"v":1},{"t":2000.73,"v":2},{"t":2001.03,"v":1},{"t":2001.34,"v":1},{"t":2001.49,"v":3},{"t":2001.73,"v":3},{"t":2001.94,"v":5},{"t":2002.25,"v":7},{"t":2002.49,"v":5},{"t":2002.70,"v":3},{"t":2003.01,"v":3},{"t":2003.31,"v":5},{"t":2003.55,"v":5},{"t":2003.77,"v":3},{"t":2004.07,"v":3},{"t":2004.28,"v":2},{"t":2004.53,"v":3},{"t":2004.83,"v":3},{"t":2005.07,"v":1},{"t":2005.38,"v":2},{"t":2006.50,"v":2},{"t":2006.72,"v":3},{"t":2006.96,"v":2},{"t":2007.26,"v":3},{"t":2007.57,"v":2},{"t":2008.02,"v":2},{"t":2008.24,"v":3},{"t":2008.63,"v":3},{"t":2008.93,"v":4},{"t":2009.24,"v":6},{"t":2009.54,"v":8},{"t":2009.75,"v":6},{"t":2009.99,"v":7},{"t":2010.21,"v":6},{"t":2010.45,"v":7},{"t":2010.61,"v":6},{"t":2010.76,"v":7},{"t":2011.06,"v":8},{"t":2011.37,"v":6},{"t":2012.12,"v":6},{"t":2012.37,"v":7},{"t":2012.58,"v":6},{"t":2012.89,"v":5},{"t":2013.19,"v":6},{"t":2013.49,"v":5},{"t":2013.80,"v":4},{"t":2014.10,"v":3},{"t":2014.31,"v":5},{"t":2014.62,"v":5},{"t":2014.86,"v":3},{"t":2015.14,"v":4},{"t":2015.47,"v":4}]
},
"concat":[
{"title":"Prices are low","data":{"name":"p1"},"width":438,"height":156,"layer":[
 {"mark":{"type":"line"},"encoding":{"x":{"field":"t","type":"quantitative","scale":{"domain":[1975.5,2015.5],"nice":false,"zero":false},"axis":{"values":[1980,1985,1990,1995,2000,2005,2010,2015],"format":"d","title":null}},"y":{"field":"v","type":"quantitative","scale":{"domain":[2,69],"nice":false,"zero":false},"axis":{"values":[20,40,60],"title":null}}}},
 {"mark":{"type":"line","opacity":0},"encoding":{"x":{"field":"t","type":"quantitative","axis":{"orient":"top","values":[1980,1985,1990,1995,2000,2005,2010,2015],"labels":false,"title":null}},"y":{"field":"v","type":"quantitative","axis":{"orient":"right","values":[20,40,60],"labels":false,"title":null}}}}
],"resolve":{"axis":{"x":"independent","y":"independent"}}},
{"title":"Times are good","data":{"name":"p2"},"width":438,"height":156,"layer":[
 {"mark":{"type":"line"},"encoding":{"x":{"field":"t","type":"quantitative","scale":{"domain":[1975.5,2015.5],"nice":false,"zero":false},"axis":{"values":[1980,1985,1990,1995,2000,2005,2010,2015],"format":"d","title":null}},"y":{"field":"v","type":"quantitative","scale":{"domain":[0,14],"nice":false,"zero":false},"axis":{"values":[0,5,10],"title":null}}}},
 {"mark":{"type":"line","opacity":0},"encoding":{"x":{"field":"t","type":"quantitative","axis":{"orient":"top","values":[1980,1985,1990,1995,2000,2005,2010,2015],"labels":false,"title":null}},"y":{"field":"v","type":"quantitative","axis":{"orient":"right","values":[0,5,10],"labels":false,"title":null}}}}
],"resolve":{"axis":{"x":"independent","y":"independent"}}},
{"title":"Prices are going higher","data":{"name":"p3"},"width":438,"height":156,"layer":[
 {"mark":{"type":"line"},"encoding":{"x":{"field":"t","type":"quantitative","scale":{"domain":[1975.5,2015.5],"nice":false,"zero":false},"axis":{"values":[1980,1985,1990,1995,2000,2005,2010,2015],"format":"d","title":null}},"y":{"field":"v","type":"quantitative","scale":{"domain":[1,46],"nice":false,"zero":false},"axis":{"values":[10,20,30,40],"title":null}}}},
 {"mark":{"type":"line","opacity":0},"encoding":{"x":{"field":"t","type":"quantitative","axis":{"orient":"top","values":[1980,1985,1990,1995,2000,2005,2010,2015],"labels":false,"title":null}},"y":{"field":"v","type":"quantitative","axis":{"orient":"right","values":[10,20,30,40],"labels":false,"title":null}}}}
],"resolve":{"axis":{"x":"independent","y":"independent"}}},
{"title":"Prices are high","data":{"name":"p4"},"width":438,"height":156,"layer":[
 {"mark":{"type":"line"},"encoding":{"x":{"field":"t","type":"quantitative","scale":{"domain":[1975.5,2015.5],"nice":false,"zero":false},"axis":{"values":[1980,1985,1990,1995,2000,2005,2010,2015],"format":"d","title":null}},"y":{"field":"v","type":"quantitative","scale":{"domain":[3,34],"nice":false,"zero":false},"axis":{"values":[10,20,30],"title":null}}}},
 {"mark":{"type":"line","opacity":0},"encoding":{"x":{"field":"t","type":"quantitative","axis":{"orient":"top","values":[1980,1985,1990,1995,2000,2005,2010,2015],"labels":false,"title":null}},"y":{"field":"v","type":"quantitative","axis":{"orient":"right","values":[10,20,30],"labels":false,"title":null}}}}
],"resolve":{"axis":{"x":"independent","y":"independent"}}},
{"title":"Interest rates are low","data":{"name":"p5"},"width":438,"height":156,"layer":[
 {"mark":{"type":"line"},"encoding":{"x":{"field":"t","type":"quantitative","scale":{"domain":[1975.5,2015.5],"nice":false,"zero":false},"axis":{"values":[1980,1985,1990,1995,2000,2005,2010,2015],"format":"d","title":null}},"y":{"field":"v","type":"quantitative","scale":{"domain":[1,77],"nice":false,"zero":false},"axis":{"values":[20,40,60],"title":null}}}},
 {"mark":{"type":"line","opacity":0},"encoding":{"x":{"field":"t","type":"quantitative","axis":{"orient":"top","values":[1980,1985,1990,1995,2000,2005,2010,2015],"labels":false,"title":null}},"y":{"field":"v","type":"quantitative","axis":{"orient":"right","values":[20,40,60],"labels":false,"title":null}}}}
],"resolve":{"axis":{"x":"independent","y":"independent"}}},
{"title":{"text":"Interest rates are high","offset":-2},"data":{"name":"p6"},"width":438,"height":156,"layer":[
 {"mark":{"type":"line"},"encoding":{"x":{"field":"t","type":"quantitative","scale":{"domain":[1975.5,2015.5],"nice":false,"zero":false},"axis":{"values":[1980,1985,1990,1995,2000,2005,2010,2015],"format":"d","title":null}},"y":{"field":"v","type":"quantitative","scale":{"domain":[2,80],"nice":false,"zero":false},"axis":{"values":[20,40,60,80],"title":null}}}},
 {"mark":{"type":"line","opacity":0},"encoding":{"x":{"field":"t","type":"quantitative","axis":{"orient":"top","values":[1980,1985,1990,1995,2000,2005,2010,2015],"labels":false,"title":null}},"y":{"field":"v","type":"quantitative","axis":{"orient":"right","values":[20,40,60,80],"labels":false,"title":null}}}}
],"resolve":{"axis":{"x":"independent","y":"independent"}}},
{"title":"Rising interest rates","data":{"name":"p7"},"width":438,"height":156,"layer":[
 {"mark":{"type":"line"},"encoding":{"x":{"field":"t","type":"quantitative","scale":{"domain":[1975.5,2015.5],"nice":false,"zero":false},"axis":{"values":[1980,1985,1990,1995,2000,2005,2010,2015],"format":"d","title":null}},"y":{"field":"v","type":"quantitative","scale":{"domain":[0,24],"nice":false,"zero":false},"axis":{"values":[0,10,20],"title":null}}}},
 {"mark":{"type":"line","opacity":0},"encoding":{"x":{"field":"t","type":"quantitative","axis":{"orient":"top","values":[1980,1985,1990,1995,2000,2005,2010,2015],"labels":false,"title":null}},"y":{"field":"v","type":"quantitative","axis":{"orient":"right","values":[0,10,20],"labels":false,"title":null}}}}
],"resolve":{"axis":{"x":"independent","y":"independent"}}},
{"title":"Cannot afford","data":{"name":"p8"},"width":438,"height":156,"layer":[
 {"mark":{"type":"line"},"encoding":{"x":{"field":"t","type":"quantitative","scale":{"domain":[1975.5,2015.5],"nice":false,"zero":false},"axis":{"values":[1980,1985,1990,1995,2000,2005,2010,2015],"format":"d","title":null}},"y":{"field":"v","type":"quantitative","scale":{"domain":[2,18],"nice":false,"zero":false},"axis":{"values":[5,10,15],"title":null}}}},
 {"mark":{"type":"line","opacity":0},"encoding":{"x":{"field":"t","type":"quantitative","axis":{"orient":"top","values":[1980,1985,1990,1995,2000,2005,2010,2015],"labels":false,"title":null}},"y":{"field":"v","type":"quantitative","axis":{"orient":"right","values":[5,10,15],"labels":false,"title":null}}}}
],"resolve":{"axis":{"x":"independent","y":"independent"}}},
{"title":{"text":"Good investment","offset":-2},"data":{"name":"p9"},"width":438,"height":156,"layer":[
 {"mark":{"type":"line"},"encoding":{"x":{"field":"t","type":"quantitative","scale":{"domain":[1975.5,2015.5],"nice":false,"zero":false},"axis":{"values":[1980,1985,1990,1995,2000,2005,2010,2015],"format":"d","title":null}},"y":{"field":"v","type":"quantitative","scale":{"domain":[2,14],"nice":false,"zero":false},"axis":{"values":[2,4,6,8,10,12,14],"labelExpr":"(datum.value - 2) % 4 == 0 ? datum.label : ''","title":null}}}},
 {"mark":{"type":"line","opacity":0},"encoding":{"x":{"field":"t","type":"quantitative","axis":{"orient":"top","values":[1980,1985,1990,1995,2000,2005,2010,2015],"labels":false,"title":null}},"y":{"field":"v","type":"quantitative","axis":{"orient":"right","values":[2,4,6,8,10,12,14],"labels":false,"title":null}}}}
],"resolve":{"axis":{"x":"independent","y":"independent"}}},
{"title":"Uncertain future","data":{"name":"p10"},"width":438,"height":156,"layer":[
 {"mark":{"type":"line"},"encoding":{"x":{"field":"t","type":"quantitative","scale":{"domain":[1975.5,2015.5],"nice":false,"zero":false},"axis":{"values":[1980,1985,1990,1995,2000,2005,2010,2015],"format":"d","title":null}},"y":{"field":"v","type":"quantitative","scale":{"domain":[0,12],"nice":false,"zero":false},"axis":{"values":[0,5,10],"title":null}}}},
 {"mark":{"type":"line","opacity":0},"encoding":{"x":{"field":"t","type":"quantitative","axis":{"orient":"top","values":[1980,1985,1990,1995,2000,2005,2010,2015],"labels":false,"title":null}},"y":{"field":"v","type":"quantitative","axis":{"orient":"right","values":[0,5,10],"labels":false,"title":null}}}}
],"resolve":{"axis":{"x":"independent","y":"independent"}}}
]
}
